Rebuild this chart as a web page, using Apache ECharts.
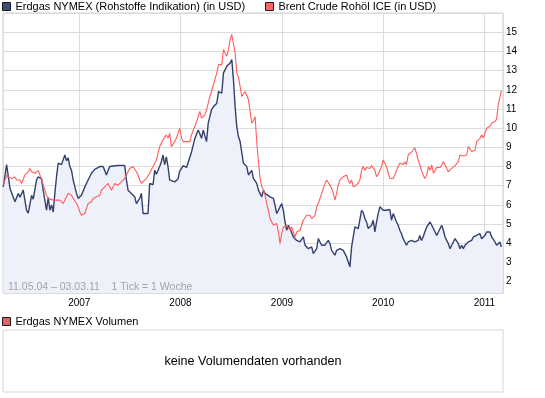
<!DOCTYPE html>
<html>
<head>
<meta charset="utf-8">
<script src="https://cdn.jsdelivr.net/npm/echarts@6/dist/echarts.min.js"></script>
<style>
  html, body { margin: 0; padding: 0; background: #fff; }
  #chart { width: 545px; height: 398px; }
</style>
</head>
<body>
<div id="chart"></div>
<script>
const gasName = 'Erdgas NYMEX (Rohstoffe Indikation) (in USD)';
const brentName = 'Brent Crude Rohöl ICE (in USD)';
const volumeName = 'Erdgas NYMEX Volumen';
const rangeText = '11.05.04 – 03.03.11    1 Tick = 1 Woche';
const noVolumeText = 'keine Volumendaten vorhanden';

// Erdgas NYMEX, weekly-ish readings
const gasDates = [
  '2006-04-02', '2006-04-14', '2006-04-26', '2006-05-14', '2006-05-26', '2006-06-01', '2006-06-13', '2006-06-25',
  '2006-07-01', '2006-07-13', '2006-07-19', '2006-07-31', '2006-08-06', '2006-08-18', '2006-08-24', '2006-09-05',
  '2006-09-11', '2006-09-17', '2006-09-23', '2006-09-29', '2006-10-05', '2006-10-11', '2006-10-17', '2006-10-29',
  '2006-11-10', '2006-11-16', '2006-11-22', '2006-11-28', '2006-12-04', '2006-12-10', '2006-12-22', '2006-12-28',
  '2007-01-09', '2007-01-21', '2007-02-02', '2007-02-14', '2007-02-26', '2007-03-16', '2007-03-28', '2007-04-09',
  '2007-04-15', '2007-04-21', '2007-05-21', '2007-06-14', '2007-06-20', '2007-06-26', '2007-07-08', '2007-07-20',
  '2007-07-26', '2007-08-07', '2007-08-13', '2007-08-19', '2007-08-25', '2007-09-06', '2007-09-12', '2007-09-24',
  '2007-09-30', '2007-10-06', '2007-10-18', '2007-10-24', '2007-10-30', '2007-11-05', '2007-11-11', '2007-11-17',
  '2007-11-23', '2007-11-29', '2007-12-11', '2007-12-23', '2007-12-29', '2008-01-11', '2008-01-23', '2008-01-29',
  '2008-02-10', '2008-02-22', '2008-03-05', '2008-03-11', '2008-03-17', '2008-03-23', '2008-03-29', '2008-04-04',
  '2008-04-10', '2008-04-16', '2008-04-22', '2008-04-28', '2008-05-04', '2008-05-11', '2008-05-17', '2008-05-23',
  '2008-05-29', '2008-06-04', '2008-06-10', '2008-06-16', '2008-06-22', '2008-06-28', '2008-07-04', '2008-07-10',
  '2008-07-16', '2008-07-22', '2008-07-28', '2008-08-03', '2008-08-09', '2008-08-15', '2008-08-21', '2008-08-27',
  '2008-09-02', '2008-09-14', '2008-09-20', '2008-10-02', '2008-10-08', '2008-10-20', '2008-10-26', '2008-11-01',
  '2008-11-07', '2008-11-19', '2008-12-01', '2008-12-07', '2008-12-13', '2008-12-19', '2008-12-25', '2008-12-31',
  '2009-01-06', '2009-01-12', '2009-01-18', '2009-01-24', '2009-01-30', '2009-02-05', '2009-02-11', '2009-02-17',
  '2009-02-23', '2009-03-07', '2009-03-13', '2009-03-19', '2009-03-25', '2009-04-06', '2009-04-18', '2009-04-24',
  '2009-04-30', '2009-05-06', '2009-05-12', '2009-05-18', '2009-05-24', '2009-05-30', '2009-06-05', '2009-06-11',
  '2009-06-17', '2009-06-23', '2009-06-29', '2009-07-11', '2009-07-17', '2009-07-23', '2009-07-29', '2009-08-10',
  '2009-08-22', '2009-08-28', '2009-09-03', '2009-09-09', '2009-09-15', '2009-09-21', '2009-09-27', '2009-10-03',
  '2009-10-09', '2009-10-15', '2009-10-21', '2009-10-27', '2009-11-02', '2009-11-08', '2009-11-14', '2009-11-20',
  '2009-11-26', '2009-12-02', '2009-12-08', '2009-12-14', '2009-12-20', '2009-12-26', '2010-01-01', '2010-01-07',
  '2010-01-13', '2010-01-19', '2010-01-25', '2010-01-31', '2010-02-06', '2010-02-12', '2010-02-18', '2010-02-24',
  '2010-03-02', '2010-03-08', '2010-03-14', '2010-03-20', '2010-03-26', '2010-04-01', '2010-04-07', '2010-04-13',
  '2010-04-19', '2010-04-25', '2010-05-01', '2010-05-07', '2010-05-13', '2010-05-19', '2010-05-25', '2010-05-31',
  '2010-06-07', '2010-06-13', '2010-06-19', '2010-06-25', '2010-07-01', '2010-07-07', '2010-07-13', '2010-07-19',
  '2010-07-25', '2010-07-31', '2010-08-06', '2010-08-12', '2010-08-18', '2010-08-24', '2010-08-30', '2010-09-05',
  '2010-09-11', '2010-09-17', '2010-09-23', '2010-09-29', '2010-10-05', '2010-10-11', '2010-10-17', '2010-10-23',
  '2010-10-29', '2010-11-04', '2010-11-10', '2010-11-16', '2010-11-22', '2010-11-28', '2010-12-04', '2010-12-10',
  '2010-12-16', '2010-12-22', '2010-12-28', '2011-01-03', '2011-01-09', '2011-01-15', '2011-01-21', '2011-01-27',
  '2011-02-02', '2011-02-08', '2011-02-14', '2011-02-20', '2011-02-26', '2011-03-03'
];
const gasValues = [
  6.94, 8.1, 6.87, 6.16, 6.6, 6.4, 6.77, 5.72,
  5.57, 6.5, 6.3, 7.3, 7.47, 7.35, 6.77, 5.72,
  6.4, 5.72, 6.0, 5.63, 6.6, 7.47, 8.17, 8.1,
  8.6, 8.3, 8.45, 8.0, 7.8, 7.3, 6.6, 6.34,
  6.5, 6.94, 7.3, 7.65, 7.85, 8.0, 8.0, 7.56,
  7.8, 8.0, 8.05, 8.05, 7.3, 6.77, 6.6, 6.42,
  6.07, 6.34, 6.6, 5.55, 5.46, 5.55, 7.12, 7.05,
  7.8, 7.6, 8.0, 8.25, 8.6, 8.1, 8.5, 8.0,
  7.3, 7.2, 7.2, 7.35, 7.75, 8.05, 7.95, 7.9,
  8.77, 9.47, 9.9, 9.7, 9.47, 9.9, 9.6, 9.3,
  10.26, 10.6, 10.96, 11.1, 11.0, 11.3, 11.9, 12.0,
  11.83, 12.88, 12.96, 13.22, 13.22, 13.4, 13.57, 12.53,
  11.13, 10.08, 9.56, 9.3, 9.2, 8.17, 8.2, 8.0,
  7.56, 7.8, 7.38, 7.12, 6.77, 6.42, 6.77, 6.6,
  6.68, 6.42, 6.34, 5.98, 5.55, 5.72, 5.9, 6.07,
  5.72, 5.11, 4.68, 4.94, 4.77, 4.68, 4.33, 4.41,
  4.15, 4.07, 4.15, 4.33, 3.9, 3.72, 3.81, 3.46,
  3.38, 3.72, 4.24, 4.15, 3.9, 3.81, 3.9, 3.98,
  4.15, 3.98, 3.63, 3.38, 3.63, 3.72, 3.72, 3.63,
  3.29, 3.03, 2.77, 3.81, 4.33, 4.85, 4.94, 4.77,
  4.77, 5.72, 5.6, 5.29, 5.1, 4.77, 4.68, 4.94,
  5.2, 4.59, 5.1, 5.55, 5.9, 5.98, 5.72, 5.63,
  5.72, 5.63, 5.76, 5.2, 5.55, 5.46, 5.11, 4.94,
  4.68, 4.5, 4.24, 4.07, 3.9, 4.07, 4.15, 4.15,
  4.24, 4.07, 3.98, 4.15, 4.41, 4.15, 4.33, 4.59,
  4.85, 4.94, 5.11, 4.94, 4.77, 4.59, 4.41, 4.59,
  4.68, 4.94, 4.68, 4.33, 4.15, 3.98, 3.72, 3.9,
  4.07, 4.24, 4.15, 3.98, 3.72, 3.9, 3.72, 3.9,
  3.81, 4.07, 3.98, 4.15, 4.33, 4.41, 4.41, 4.33,
  4.5, 4.24, 4.15, 4.41, 4.59, 4.68, 4.59, 4.33,
  4.24, 4.07, 3.9, 3.98, 4.07, 3.81
];

// Brent Crude (per 10 USD)
const brentDates = [
  '2006-04-02', '2006-04-14', '2006-04-20', '2006-05-02', '2006-05-14', '2006-05-20', '2006-06-01', '2006-06-07',
  '2006-06-19', '2006-07-01', '2006-07-07', '2006-07-13', '2006-07-19', '2006-07-25', '2006-07-31', '2006-08-06',
  '2006-08-12', '2006-08-18', '2006-08-24', '2006-08-30', '2006-09-05', '2006-09-11', '2006-09-17', '2006-09-29',
  '2006-10-05', '2006-10-11', '2006-10-17', '2006-10-23', '2006-10-29', '2006-11-04', '2006-11-10', '2006-11-16',
  '2006-11-22', '2006-11-28', '2006-12-04', '2006-12-10', '2006-12-16', '2006-12-22', '2006-12-28', '2007-01-03',
  '2007-01-09', '2007-01-15', '2007-01-21', '2007-01-27', '2007-02-02', '2007-02-08', '2007-02-14', '2007-02-20',
  '2007-02-26', '2007-03-04', '2007-03-10', '2007-03-16', '2007-03-22', '2007-03-28', '2007-04-03', '2007-04-09',
  '2007-04-15', '2007-04-21', '2007-04-27', '2007-05-03', '2007-05-09', '2007-05-15', '2007-05-21', '2007-05-27',
  '2007-06-02', '2007-06-08', '2007-06-14', '2007-06-20', '2007-06-26', '2007-07-02', '2007-07-08', '2007-07-14',
  '2007-07-20', '2007-07-26', '2007-08-01', '2007-08-07', '2007-08-13', '2007-08-19', '2007-08-31', '2007-09-12',
  '2007-09-18', '2007-09-24', '2007-09-30', '2007-10-06', '2007-10-12', '2007-10-18', '2007-10-24', '2007-10-30',
  '2007-11-05', '2007-11-11', '2007-11-17', '2007-11-23', '2007-11-29', '2007-12-05', '2007-12-11', '2007-12-17',
  '2007-12-23', '2007-12-29', '2008-01-05', '2008-01-11', '2008-01-17', '2008-01-23', '2008-01-29', '2008-02-04',
  '2008-02-10', '2008-02-16', '2008-02-22', '2008-02-28', '2008-03-05', '2008-03-11', '2008-03-17', '2008-03-23',
  '2008-03-29', '2008-04-04', '2008-04-10', '2008-04-16', '2008-04-22', '2008-04-28', '2008-05-04', '2008-05-11',
  '2008-05-17', '2008-05-23', '2008-05-29', '2008-06-04', '2008-06-10', '2008-06-16', '2008-06-22', '2008-06-28',
  '2008-07-04', '2008-07-10', '2008-07-16', '2008-07-22', '2008-07-28', '2008-08-03', '2008-08-09', '2008-08-15',
  '2008-08-21', '2008-08-27', '2008-09-02', '2008-09-08', '2008-09-14', '2008-09-20', '2008-09-26', '2008-10-02',
  '2008-10-08', '2008-10-14', '2008-10-20', '2008-10-26', '2008-11-01', '2008-11-07', '2008-11-13', '2008-11-19',
  '2008-11-25', '2008-12-01', '2008-12-07', '2008-12-13', '2008-12-19', '2008-12-25', '2008-12-31', '2009-01-06',
  '2009-01-12', '2009-01-18', '2009-01-24', '2009-01-30', '2009-02-05', '2009-02-11', '2009-02-17', '2009-02-23',
  '2009-03-01', '2009-03-07', '2009-03-13', '2009-03-19', '2009-03-25', '2009-03-31', '2009-04-06', '2009-04-12',
  '2009-04-18', '2009-04-24', '2009-04-30', '2009-05-06', '2009-05-12', '2009-05-18', '2009-05-24', '2009-05-30',
  '2009-06-05', '2009-06-11', '2009-06-17', '2009-06-23', '2009-06-29', '2009-07-05', '2009-07-11', '2009-07-17',
  '2009-07-23', '2009-07-29', '2009-08-04', '2009-08-10', '2009-08-16', '2009-08-22', '2009-08-28', '2009-09-03',
  '2009-09-09', '2009-09-15', '2009-09-21', '2009-09-27', '2009-10-03', '2009-10-09', '2009-10-15', '2009-10-21',
  '2009-10-27', '2009-11-02', '2009-11-08', '2009-11-14', '2009-11-20', '2009-11-26', '2009-12-02', '2009-12-08',
  '2009-12-14', '2009-12-20', '2009-12-26', '2010-01-01', '2010-01-07', '2010-01-13', '2010-01-19', '2010-01-25',
  '2010-01-31', '2010-02-06', '2010-02-12', '2010-02-18', '2010-02-24', '2010-03-02', '2010-03-08', '2010-03-14',
  '2010-03-20', '2010-03-26', '2010-04-01', '2010-04-07', '2010-04-13', '2010-04-19', '2010-04-25', '2010-05-01',
  '2010-05-07', '2010-05-13', '2010-05-19', '2010-05-25', '2010-05-31', '2010-06-07', '2010-06-13', '2010-06-19',
  '2010-06-25', '2010-07-01', '2010-07-07', '2010-07-13', '2010-07-19', '2010-07-25', '2010-07-31', '2010-08-06',
  '2010-08-12', '2010-08-18', '2010-08-24', '2010-08-30', '2010-09-05', '2010-09-11', '2010-09-17', '2010-09-23',
  '2010-09-29', '2010-10-05', '2010-10-11', '2010-10-17', '2010-10-23', '2010-10-29', '2010-11-04', '2010-11-10',
  '2010-11-16', '2010-11-22', '2010-11-28', '2010-12-04', '2010-12-10', '2010-12-16', '2010-12-22', '2010-12-28',
  '2011-01-03', '2011-01-09', '2011-01-15', '2011-01-21', '2011-01-27', '2011-02-02', '2011-02-08', '2011-02-14',
  '2011-02-20', '2011-02-26', '2011-03-03'
];
const brentValues = [
  7.03, 7.56, 7.45, 7.38, 7.45, 7.3, 7.3, 7.12,
  7.56, 7.73, 7.9, 7.73, 7.8, 7.65, 7.73, 7.8,
  7.56, 7.38, 7.03, 6.77, 6.5, 6.34, 6.25, 6.25,
  6.16, 6.25, 6.16, 6.25, 6.16, 6.07, 6.25, 6.42,
  6.6, 6.6, 6.5, 6.34, 6.25, 6.07, 5.9, 5.63,
  5.46, 5.46, 5.55, 5.81, 6.07, 6.16, 6.16, 6.34,
  6.25, 6.42, 6.34, 6.5, 6.77, 6.86, 6.94, 7.03,
  7.12, 6.94, 6.77, 6.94, 7.12, 7.2, 7.03, 7.12,
  7.2, 7.3, 7.38, 7.56, 7.73, 7.9, 8.0, 8.0,
  7.9, 7.73, 7.56, 7.3, 7.12, 7.2, 7.38, 7.65,
  7.85, 8.0, 8.1, 8.34, 8.69, 9.04, 9.1, 9.39,
  9.47, 9.65, 9.47, 9.73, 9.04, 9.1, 9.3, 9.47,
  9.73, 9.99, 9.47, 9.3, 9.21, 9.3, 9.21, 9.3,
  9.65, 9.9, 10.08, 10.34, 10.6, 10.87, 10.52, 10.6,
  10.69, 10.96, 11.3, 11.65, 11.91, 11.83, 12.53, 12.88,
  13.31, 13.4, 13.31, 14.1, 13.92, 13.75, 14.1, 14.62,
  14.88, 14.94, 13.92, 12.88, 12.65, 12.18, 11.65, 11.57,
  11.91, 11.83, 11.49, 10.87, 10.26, 10.4, 10.6, 9.3,
  8.25, 7.38, 6.94, 6.8, 6.5, 6.07, 5.72, 5.29,
  5.2, 4.94, 4.85, 5.03, 4.6, 3.98, 4.5, 4.85,
  4.85, 4.94, 4.85, 4.68, 4.85, 4.59, 4.33, 4.59,
  4.68, 4.68, 4.94, 5.2, 5.25, 5.46, 5.55, 5.46,
  5.29, 5.2, 5.46, 5.9, 6.07, 6.34, 6.6, 6.86,
  7.12, 7.3, 7.2, 7.03, 6.86, 6.6, 6.25, 6.6,
  7.03, 7.3, 7.38, 7.47, 7.56, 7.56, 7.3, 7.12,
  7.3, 6.94, 6.86, 7.03, 6.94, 7.3, 7.8, 8.0,
  7.8, 7.95, 8.0, 7.9, 8.05, 8.0, 7.8, 7.47,
  7.6, 7.8, 8.0, 8.34, 8.43, 8.0, 7.65, 7.38,
  7.3, 7.38, 7.56, 7.8, 8.0, 8.17, 8.08, 8.1,
  8.25, 8.1, 8.6, 8.69, 8.75, 8.86, 8.98, 8.69,
  8.34, 8.1, 7.8, 7.56, 7.38, 7.56, 8.0, 7.8,
  8.08, 7.65, 7.8, 7.95, 7.9, 7.95, 8.05, 8.25,
  8.08, 7.9, 7.73, 7.8, 7.9, 7.95, 8.05, 8.05,
  8.25, 8.6, 8.65, 8.55, 8.55, 8.6, 9.04, 8.95,
  8.78, 8.69, 8.85, 9.3, 9.38, 9.47, 9.65, 9.5,
  9.73, 9.99, 10.08, 10.1, 10.26, 10.3, 10.34, 10.47,
  11.22, 11.6, 11.97
];

const xMin = '2006-04-01';
const xMax = '2011-03-09';
const yMin = 1.41;
const yMax = 16;

const labelFont = '"Liberation Sans", Arial, sans-serif';

const chart = echarts.init(document.getElementById('chart'));

function toPairs(dates, values) {
  return dates.map((d, i) => [d, values[i]]);
}

function legendItem(name, color) {
  return {name: name, itemStyle: {color: color, borderColor: '#1a1a1a', borderWidth: 1}};
}

const legendBase = {
  icon: 'rect',
  itemWidth: 8,
  itemHeight: 8,
  selectedMode: false,
  padding: 0,
  textStyle: {fontSize: 11, color: '#000', fontFamily: labelFont}
};

const option = {
  animation: false,
  textStyle: {fontFamily: labelFont},
  legend: [
    Object.assign({left: 2, top: 1, data: [legendItem(gasName, '#3d4b7d')]}, legendBase),
    Object.assign({left: 265, top: 1, data: [legendItem(brentName, '#ff6464')]}, legendBase),
    Object.assign({left: 2, top: 316, data: [legendItem(volumeName, '#e06464')]}, legendBase)
  ],
  grid: [
    {left: 3, right: 42, top: 13, height: 280, show: true, borderColor: '#cfcfcf', borderWidth: 1},
    {left: 3, right: 42, top: 330, height: 62, show: true, borderColor: '#d6d6d6', borderWidth: 1}
  ],
  xAxis: [
    {
      type: 'time',
      gridIndex: 0,
      min: xMin,
      max: xMax,
      splitNumber: 5,
      minInterval: 300 * 24 * 3600 * 1000,
      axisLine: {show: false},
      axisTick: {show: false},
      splitLine: {show: true, lineStyle: {color: '#dcdcdc', width: 1}},
      axisLabel: {
        fontSize: 10,
        color: '#000',
        margin: 5,
        formatter: function (val) {
          const d = new Date(val);
          return (d.getMonth() === 0 && d.getDate() === 1) ? String(d.getFullYear()) : '';
        }
      }
    },
    {type: 'category', gridIndex: 1, show: false, data: []}
  ],
  yAxis: [
    {
      type: 'value',
      gridIndex: 0,
      position: 'right',
      min: yMin,
      max: yMax,
      minInterval: 1,
      maxInterval: 1,
      axisLine: {show: false},
      axisTick: {show: false},
      splitLine: {show: true, lineStyle: {color: '#dcdcdc', width: 1}},
      axisLabel: {fontSize: 10, color: '#000', margin: 3, showMinLabel: false, showMaxLabel: false}
    },
    {type: 'value', gridIndex: 1, show: false}
  ],
  graphic: [
    {
      type: 'text',
      x: 8,
      y: 287,
      z: 100,
      style: {text: rangeText, fill: '#a3a3a3', font: '10.5px ' + labelFont, verticalAlign: 'middle'}
    },
    {
      type: 'text',
      x: 253,
      y: 362,
      z: 100,
      style: {text: noVolumeText, fill: '#000', font: '12.6px ' + labelFont, align: 'center', verticalAlign: 'middle'}
    }
  ],
  series: [
    {
      name: gasName,
      type: 'line',
      xAxisIndex: 0,
      yAxisIndex: 0,
      data: toPairs(gasDates, gasValues),
      showSymbol: false,
      symbol: 'none',
      color: '#33416f',
      lineStyle: {color: '#33416f', width: 1.4},
      areaStyle: {color: '#eef1f9', opacity: 1, origin: 'start'},
      z: 2
    },
    {
      name: brentName,
      type: 'line',
      xAxisIndex: 0,
      yAxisIndex: 0,
      data: toPairs(brentDates, brentValues),
      showSymbol: false,
      symbol: 'none',
      color: '#ff5c5c',
      lineStyle: {color: '#ff5c5c', width: 1.1},
      z: 3
    },
    {
      name: volumeName,
      type: 'bar',
      xAxisIndex: 1,
      yAxisIndex: 1,
      color: '#e06464',
      data: []
    }
  ]
};

chart.setOption(option);
</script>
</body>
</html>
